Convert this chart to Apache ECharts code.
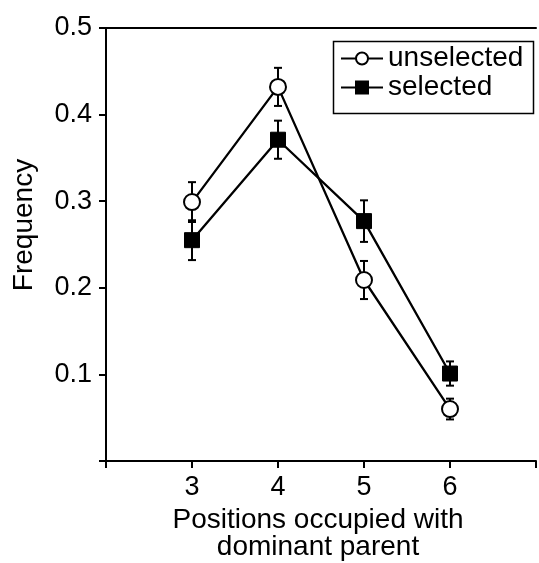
<!DOCTYPE html>
<html>
<head>
<meta charset="utf-8">
<script src="https://cdn.jsdelivr.net/npm/echarts@6/dist/echarts.min.js"></script>
<style>
html,body{margin:0;padding:0;background:#fff;}
#chart{width:539px;height:563px;}
</style>
</head>
<body>
<div id="chart"></div>
<script>
var positions = [3, 4, 5, 6];
var unselected = [0.299, 0.432, 0.209, 0.060];
var unselectedErr = [0.023, 0.022, 0.022, 0.012];
var selected = [0.255, 0.371, 0.277, 0.101];
var selectedErr = [0.023, 0.022, 0.024, 0.014];
var yTicks = [0.1, 0.2, 0.3, 0.4, 0.5];
var xTickLabels = [3, 4, 5, 6];

var FONT = '"Liberation Sans", Arial, Helvetica, sans-serif';

function pairs(xs, ys) { return xs.map(function (x, i) { return [x, ys[i]]; }); }
function errData(xs, ys, es) { return xs.map(function (x, i) { return [x, ys[i], es[i]]; }); }

function errRender(params, api) {
  var x = api.value(0), y = api.value(1), e = api.value(2);
  var top = api.coord([x, y + e]);
  var bot = api.coord([x, y - e]);
  var w = 4;
  var st = { stroke: '#000', lineWidth: 2 };
  return {
    type: 'group',
    children: [
      { type: 'line', shape: { x1: top[0], y1: top[1], x2: bot[0], y2: bot[1] }, style: st },
      { type: 'line', shape: { x1: top[0] - w, y1: top[1], x2: top[0] + w, y2: top[1] }, style: st },
      { type: 'line', shape: { x1: bot[0] - w, y1: bot[1], x2: bot[0] + w, y2: bot[1] }, style: st }
    ]
  };
}

var chart = echarts.init(document.getElementById('chart'), null, { renderer: 'canvas' });
chart.setOption({
  animation: false,
  backgroundColor: '#fff',
  grid: { left: 106, top: 28, width: 436, height: 433, containLabel: false },
  xAxis: [{
    type: 'value', min: 2, max: 7, interval: 1, position: 'bottom',
    axisLine: { show: true, onZero: false, lineStyle: { color: '#000', width: 2 } },
    axisTick: { show: true, inside: false, length: 7, lineStyle: { color: '#000', width: 2 } },
    axisLabel: {
      show: true, margin: 13, color: '#000', fontSize: 27, fontFamily: FONT,
      formatter: function (v) { return xTickLabels.indexOf(v) >= 0 ? String(v) : ''; }
    },
    splitLine: { show: false }
  }, {
    type: 'value', min: 2, max: 7, interval: 1, position: 'top',
    axisLine: { show: true, onZero: false, lineStyle: { color: '#000', width: 2 } },
    axisTick: { show: false }, axisLabel: { show: false }, splitLine: { show: false }
  }],
  yAxis: {
    type: 'value', min: 0, max: 0.5, interval: 0.1,
    axisLine: { show: true, onZero: false, lineStyle: { color: '#000', width: 2 } },
    axisTick: { show: true, inside: false, length: 7, lineStyle: { color: '#000', width: 2 } },
    axisLabel: {
      show: true, margin: 14, color: '#000', fontSize: 27, fontFamily: FONT,
      formatter: function (v) {
        for (var i = 0; i < yTicks.length; i++) { if (Math.abs(yTicks[i] - v) < 1e-9) return yTicks[i].toFixed(1); }
        return '';
      }
    },
    splitLine: { show: false }
  },
  legend: {
    orient: 'vertical', left: 340, top: 44, padding: 0, itemGap: 0,
    itemWidth: 42, itemHeight: 15,
    textStyle: { color: '#000', fontSize: 28, fontFamily: FONT, lineHeight: 29 },
    data: ['unselected', 'selected']
  },
  graphic: [
    { type: 'rect', left: 331, top: 39, shape: { width: 200, height: 72 },
      style: { fill: 'none', stroke: '#000', lineWidth: 1.5 }, z: 100 },
    { type: 'text', x: 24, y: 225, rotation: Math.PI / 2,
      style: { text: 'Frequency', fill: '#000', font: '28px ' + FONT, align: 'center', verticalAlign: 'middle' } },
    { type: 'text', x: 318, y: 507,
      style: { text: 'Positions occupied with\ndominant parent', fill: '#000', font: '28px ' + FONT,
        align: 'center', verticalAlign: 'top', lineHeight: 27 } }
  ],
  series: [
    { type: 'custom', name: 'errU', renderItem: errRender, data: errData(positions, unselected, unselectedErr), z: 1, silent: true },
    { type: 'custom', name: 'errS', renderItem: errRender, data: errData(positions, selected, selectedErr), z: 1, silent: true },
    {
      type: 'line', name: 'unselected', data: pairs(positions, unselected), z: 3,
      symbol: 'circle', symbolSize: 16, showAllSymbol: true,
      lineStyle: { color: '#000', width: 2.3 },
      itemStyle: { color: '#fff', borderColor: '#000', borderWidth: 2 }
    },
    {
      type: 'line', name: 'selected', data: pairs(positions, selected), z: 3,
      symbol: 'rect', symbolSize: 15, showAllSymbol: true,
      lineStyle: { color: '#000', width: 2.3 },
      itemStyle: { color: '#000', borderColor: '#000', borderWidth: 1 }
    }
  ]
});
</script>
</body>
</html>
